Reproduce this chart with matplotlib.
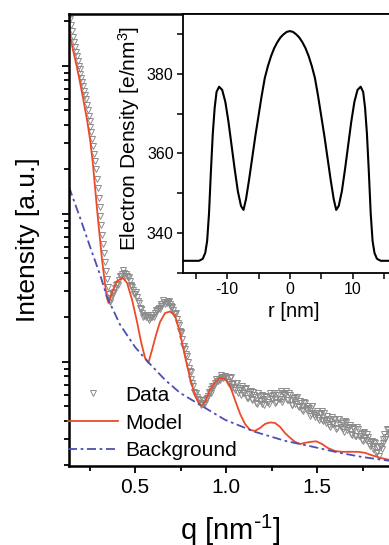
import matplotlib
matplotlib.use('Agg')
import matplotlib.pyplot as plt
from matplotlib.ticker import MultipleLocator, NullFormatter, LogLocator

plt.rcParams['font.family'] = ['Liberation Sans', 'DejaVu Sans']
plt.rcParams['mathtext.default'] = 'regular'
plt.rcParams['axes.unicode_minus'] = False

# --- SAXS data ---
q_data = [
    0.140, 0.145, 0.150, 0.155, 0.160, 0.165, 0.170, 0.175, 0.180, 0.185,
    0.190, 0.195, 0.200, 0.205, 0.210, 0.215, 0.220, 0.225, 0.230, 0.235,
    0.240, 0.245, 0.250, 0.255, 0.260, 0.265, 0.270, 0.275, 0.280, 0.285,
    0.290, 0.295, 0.300, 0.305, 0.310, 0.315, 0.320, 0.325, 0.330, 0.335,
    0.340, 0.345, 0.350, 0.355, 0.360, 0.365,
    0.37, 0.38, 0.39, 0.40, 0.41, 0.42, 0.43, 0.44, 0.45, 0.46,
    0.47, 0.48, 0.49, 0.50, 0.51, 0.52, 0.53, 0.54, 0.55, 0.56,
    0.57, 0.58, 0.59, 0.60, 0.61, 0.62, 0.63, 0.64, 0.65, 0.66,
    0.67, 0.68, 0.69, 0.70, 0.71, 0.72, 0.73, 0.74, 0.75, 0.76,
    0.77, 0.78, 0.79, 0.80, 0.81, 0.82, 0.83, 0.84, 0.85, 0.86,
    0.87, 0.88, 0.89, 0.90, 0.91, 0.92, 0.93, 0.94, 0.95, 0.96,
    0.97, 0.98, 0.99, 1.00, 1.01, 1.02, 1.03, 1.04, 1.05, 1.06,
    1.07, 1.08, 1.09, 1.10, 1.11, 1.12, 1.13, 1.14, 1.15, 1.16,
    1.17, 1.18, 1.19, 1.20, 1.21, 1.22, 1.23, 1.24, 1.25, 1.26,
    1.27, 1.28, 1.29, 1.30, 1.31, 1.32, 1.33, 1.34, 1.35, 1.36,
    1.37, 1.38, 1.39, 1.40, 1.41, 1.42, 1.43, 1.44, 1.45, 1.46,
    1.47, 1.48, 1.49, 1.50, 1.51, 1.52, 1.53, 1.54, 1.55, 1.56,
    1.57, 1.58, 1.59, 1.60, 1.61, 1.62, 1.63, 1.64, 1.65, 1.66,
    1.67, 1.68, 1.69, 1.70, 1.71, 1.72, 1.73, 1.74, 1.75, 1.76,
    1.77, 1.78, 1.79, 1.80, 1.81, 1.82, 1.83, 1.84, 1.85, 1.86,
    1.87, 1.88, 1.89, 1.90,
    # in-between points
    0.375, 0.385, 0.395, 0.405, 0.415, 0.425, 0.435, 0.445, 0.455, 0.465,
    0.475, 0.485, 0.495, 0.505, 0.515, 0.525, 0.535, 0.545, 0.555, 0.565,
    0.575, 0.585, 0.595, 0.605, 0.615, 0.625, 0.635, 0.645, 0.655, 0.665,
    0.675, 0.685, 0.695, 0.705, 0.715, 0.725, 0.735, 0.745, 0.755, 0.765,
    0.775, 0.785, 0.795, 0.805, 0.815, 0.825, 0.835, 0.845, 0.855, 0.865,
    0.875, 0.885, 0.895, 0.905, 0.915, 0.925, 0.935, 0.945, 0.955, 0.965,
    0.975, 0.985, 0.995, 1.005, 1.015, 1.025, 1.035, 1.045, 1.055, 1.065,
    1.075, 1.085, 1.095, 1.105, 1.115, 1.125, 1.135, 1.145, 1.155, 1.165,
    1.175, 1.185, 1.195, 1.205, 1.215, 1.225, 1.235, 1.245, 1.255, 1.265,
    1.275, 1.285, 1.295, 1.305, 1.315, 1.325, 1.335, 1.345, 1.355, 1.365,
    1.375, 1.385, 1.395, 1.405, 1.415, 1.425, 1.435, 1.445, 1.455, 1.465,
    1.475, 1.485, 1.495, 1.505, 1.515, 1.525, 1.535, 1.545, 1.555, 1.565,
    1.575, 1.585, 1.595, 1.605, 1.615, 1.625, 1.635, 1.645, 1.655, 1.665,
    1.675, 1.685, 1.695, 1.705, 1.715, 1.725, 1.735, 1.745, 1.755, 1.765,
    1.775, 1.785, 1.795, 1.805, 1.815, 1.825, 1.835, 1.845, 1.855, 1.865,
    1.875, 1.885, 1.895,
]
i_data = [
    220, 208, 189, 172, 157, 146, 135, 125, 116, 108,
    100, 94.9, 88.7, 83.0, 77.6, 72.7, 67.6, 63.2, 59.4, 54.6,
    50.1, 45.9, 42.2, 38.7, 35.5, 32.2, 28.8, 25.5, 22.6, 20.0,
    17.3, 15.0, 12.9, 11.1, 9.7, 8.4, 7.2, 6.27, 5.45, 4.74,
    4.12, 3.64, 3.21, 2.88, 2.62, 2.53,
    2.70, 2.92, 3.16, 3.37, 3.58, 3.78, 3.93, 3.99, 3.90, 3.75,
    3.52, 3.29, 3.06, 2.88, 2.75, 2.50, 2.28, 2.14, 2.05, 2.01,
    1.98, 1.98, 2.01, 2.08, 2.14, 2.21, 2.32, 2.39, 2.47, 2.52,
    2.55, 2.52, 2.47, 2.39, 2.25, 2.11, 1.95, 1.78, 1.60, 1.43,
    1.28, 1.13, 1.00, 0.869, 0.767, 0.689, 0.618, 0.580, 0.553, 0.528,
    0.520, 0.528, 0.562, 0.589, 0.627, 0.658, 0.689, 0.722, 0.744, 0.767,
    0.780, 0.792, 0.792, 0.780, 0.733, 0.780, 0.678, 0.722, 0.642, 0.722,
    0.642, 0.594, 0.668, 0.618, 0.668, 0.571, 0.622, 0.550, 0.622, 0.580,
    0.521, 0.589, 0.541, 0.599, 0.513, 0.575, 0.537, 0.618, 0.558, 0.599,
    0.529, 0.613, 0.563, 0.637, 0.558, 0.608, 0.637, 0.550, 0.599, 0.513,
    0.571, 0.521, 0.575, 0.493, 0.525, 0.470, 0.533, 0.478, 0.505, 0.432,
    0.505, 0.453, 0.425, 0.467, 0.406, 0.446, 0.406, 0.449, 0.384, 0.409,
    0.364, 0.422, 0.381, 0.409, 0.358, 0.412, 0.361, 0.387, 0.337, 0.390,
    0.355, 0.372, 0.323, 0.355, 0.318, 0.361, 0.314, 0.328, 0.293, 0.334,
    0.297, 0.312, 0.269, 0.290, 0.258, 0.284, 0.247, 0.232, 0.271, 0.284,
    0.326, 0.312, 0.347, 0.337,
    # in-between points
    2.90, 2.95, 3.31, 3.31, 3.80, 3.80, 4.15, 3.83, 3.83, 3.75,
    3.25, 3.22, 2.88, 2.95, 2.58, 2.32, 2.28, 2.00, 2.06, 2.06,
    1.92, 2.09, 2.01, 2.01, 2.25, 2.27, 2.28, 2.47, 2.61, 2.46,
    2.49, 2.57, 2.32, 2.35, 2.11, 2.13, 1.83, 1.63, 1.56, 1.29,
    1.22, 1.10, 0.904, 0.856, 0.716, 0.622, 0.618, 0.558, 0.550, 0.509,
    0.550, 0.529, 0.567, 0.627, 0.613, 0.684, 0.684, 0.768, 0.744, 0.750,
    0.811, 0.780, 0.798, 0.792, 0.710, 0.795, 0.708, 0.671, 0.720, 0.621,
    0.668, 0.687, 0.613, 0.652, 0.567, 0.606, 0.637, 0.563, 0.602, 0.525,
    0.613, 0.552, 0.523, 0.563, 0.592, 0.535, 0.521, 0.592, 0.561, 0.618,
    0.539, 0.597, 0.563, 0.539, 0.616, 0.599, 0.552, 0.616, 0.550, 0.509,
    0.567, 0.583, 0.505, 0.546, 0.505, 0.467, 0.529, 0.473, 0.486, 0.443,
    0.501, 0.436, 0.450, 0.416, 0.450, 0.464, 0.401, 0.406, 0.432, 0.372,
    0.411, 0.383, 0.411, 0.354, 0.409, 0.374, 0.389, 0.350, 0.398, 0.347,
    0.364, 0.326, 0.364, 0.353, 0.316, 0.353, 0.316, 0.298, 0.333, 0.306,
    0.326, 0.280, 0.286, 0.270, 0.288, 0.243, 0.265, 0.271, 0.258, 0.302,
    0.300, 0.353, 0.326,
]

# model fit
q_model = [
    0.139, 0.159, 0.180, 0.198, 0.216, 0.236, 0.253, 0.269, 0.290, 0.302,
    0.317, 0.330, 0.344, 0.354, 0.379, 0.401, 0.432, 0.456, 0.484, 0.511,
    0.533, 0.555, 0.573, 0.593, 0.615, 0.637, 0.665, 0.692, 0.720, 0.747,
    0.775, 0.802, 0.830, 0.852, 0.866, 0.885, 0.912, 0.940, 0.967, 0.995,
    1.022, 1.049, 1.077, 1.104, 1.132, 1.159, 1.187, 1.214, 1.242, 1.269,
    1.297, 1.324, 1.352, 1.379, 1.407, 1.434, 1.462, 1.495, 1.527, 1.560,
    1.599, 1.637, 1.681, 1.725, 1.764, 1.802, 1.846, 1.896, 1.956,
]
i_model = [
    167, 128, 98.5, 76.8, 58.9, 43.2, 31.6, 21.4, 11.1, 7.80,
    5.12, 3.75, 2.75, 2.50, 3.06, 3.52, 3.70, 3.42, 2.62, 1.86,
    1.365, 1.064, 0.985, 1.20, 1.52, 1.86, 2.14, 2.19, 2.05, 1.57,
    1.081, 0.780, 0.589, 0.521, 0.505, 0.537, 0.647, 0.733, 0.780, 0.768,
    0.689, 0.554, 0.446, 0.381, 0.347, 0.342, 0.358, 0.381, 0.390, 0.387,
    0.364, 0.331, 0.307, 0.288, 0.279, 0.284, 0.288, 0.291, 0.279, 0.262,
    0.250, 0.247, 0.247, 0.247, 0.243, 0.234, 0.225, 0.218, 0.211,
]

# background
q_bg = [0.137, 0.198, 0.253, 0.308, 0.346, 0.418, 0.500, 0.571, 0.665, 0.747,
        0.866, 0.995, 1.159, 1.324, 1.478, 1.626, 1.747, 1.896, 1.956]
i_bg = [15.2, 9.40, 5.98, 3.87, 2.75, 1.78, 1.26, 1.00, 0.756, 0.618,
        0.505, 0.406, 0.337, 0.293, 0.267, 0.243, 0.228, 0.215, 0.211]

# electron density profile (inset)
r_prof = [
    -17.5, -14.5, -13.9, -13.5, -13.2, -12.9, -12.6, -12.3, -12.0, -11.7,
    -11.3, -10.8, -10.3, -9.8, -9.3, -8.8, -8.3, -7.8, -7.4, -7.0,
    -6.5, -6.0, -5.5, -5.0, -4.5, -4.0, -3.5, -3.0, -2.5, -2.0,
    -1.5, -1.0, -0.5, 0.0, 0.5, 1.0, 1.5, 2.0, 2.5, 3.0,
    3.5, 4.0, 4.5, 5.0, 5.5, 6.0, 6.5, 7.0, 7.4, 7.8,
    8.3, 8.8, 9.3, 9.8, 10.3, 10.8, 11.3, 11.7, 12.0, 12.3,
    12.6, 12.9, 13.2, 13.5, 13.9, 14.5, 17.5,
]
rho_prof = [
    333.0, 333.0, 333.5, 335.0, 338.0, 345.0, 355.5, 365.0, 371.5, 375.5,
    376.8, 376.0, 373.0, 368.0, 362.0, 356.0, 350.5, 346.8, 345.8, 348.5,
    353.5, 359.0, 364.5, 369.5, 374.5, 379.0, 382.0, 384.5, 386.5, 388.0,
    389.2, 390.0, 390.6, 390.8, 390.6, 390.0, 389.2, 388.0, 386.5, 384.5,
    382.0, 379.0, 374.5, 369.5, 364.5, 359.0, 353.5, 348.5, 345.8, 346.8,
    350.5, 356.0, 362.0, 368.0, 373.0, 376.0, 376.8, 375.5, 371.5, 365.0,
    355.5, 345.0, 338.0, 335.0, 333.5, 333.0, 333.0,
]

fig = plt.figure(figsize=(3.89, 5.45), dpi=100)

# main plot, runs a little past the right edge like the cropped original
ax = fig.add_axes([0.1774, 0.1455, 0.8303, 0.8288])
ax.plot(q_data, i_data, ls='none', marker='v', ms=4.2, mfc='none',
        mec='#8c8c8c', mew=0.7, label='Data')
ax.plot(q_model, i_model, color='#ee4a2a', lw=1.3, label='Model')
ax.plot(q_bg, i_bg, color='#4c4fb3', lw=1.3, ls=(0, (5, 2, 1.5, 2)),
        label='Background')
ax.set_yscale('log')
ax.set_xlim(0.137, 1.912)
ax.set_ylim(0.199, 224)
ax.xaxis.set_major_locator(MultipleLocator(0.5))
ax.xaxis.set_minor_locator(MultipleLocator(0.25))
ax.yaxis.set_minor_locator(LogLocator(subs=range(2, 10)))
ax.yaxis.set_major_formatter(NullFormatter())
ax.yaxis.set_minor_formatter(NullFormatter())
ax.tick_params(which='both', direction='out', width=1.3, labelsize=15, pad=4)
ax.tick_params(which='major', length=5)
ax.tick_params(which='minor', length=3.5)
for s in ax.spines.values():
    s.set_linewidth(1.8)
ax.set_xlabel(r'q [nm$^{\text{-}1}$]', fontsize=21)
ax.xaxis.set_label_coords(0.5, -0.104)
ax.set_ylabel('Intensity [a.u.]', fontsize=19)
ax.yaxis.set_label_coords(-0.09, 0.5)
ax.legend(loc='lower left', bbox_to_anchor=(-0.003, 0.012), frameon=False,
          fontsize=15, handlelength=2.4, handletextpad=0.35,
          borderaxespad=0, borderpad=0, labelspacing=0.42)

# inset
axin = fig.add_axes([0.4697, 0.4996, 0.538, 0.4747])
axin.set_facecolor('white')
axin.plot(r_prof, rho_prof, color='black', lw=1.5)
axin.set_xlim(-17.1, 16.3)
axin.set_ylim(330.0, 395.1)
axin.xaxis.set_major_locator(MultipleLocator(10))
axin.xaxis.set_minor_locator(MultipleLocator(5))
axin.yaxis.set_major_locator(MultipleLocator(20))
axin.yaxis.set_minor_locator(MultipleLocator(10))
axin.tick_params(which='both', direction='out', width=1.1, length=4,
                 labelsize=11.5, pad=2.5)
for s in axin.spines.values():
    s.set_linewidth(1.3)
axin.set_xlabel('r [nm]', fontsize=14.5)
axin.xaxis.set_label_coords(0.53, -0.113)
axin.set_ylabel('Electron Density [e/nm$^3$]', fontsize=15)
axin.yaxis.set_label_coords(-0.196, 0.52)

fig.savefig('out.png', dpi=100)
